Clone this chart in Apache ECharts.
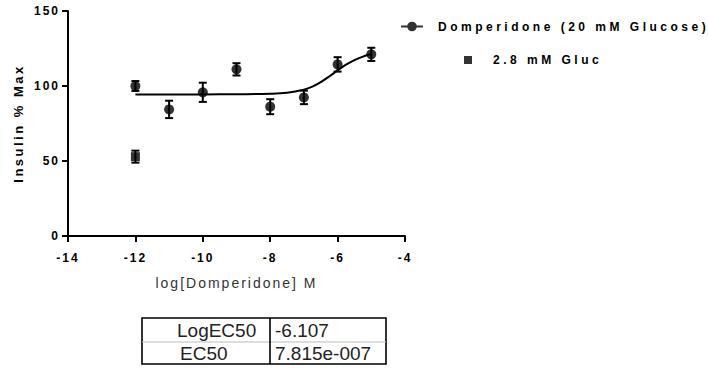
<!DOCTYPE html>
<html>
<head>
<meta charset="utf-8">
<script src="https://cdn.jsdelivr.net/npm/echarts@6/dist/echarts.min.js"></script>
<style>
html,body{margin:0;padding:0;background:#fff;}
#c{width:708px;height:368px;}
</style>
</head>
<body>
<div id="c"></div>
<script>
// ---- data ----
const seriesNames = ['Domperidone (20 mM Glucose)', '2.8 mM Gluc'];
const xTickMin = -14, xTickMax = -4, xTickStep = 2;
const yTickMin = 0, yTickMax = 150, yTickStep = 50;

const doseX    = [-12, -11, -10, -9, -8, -7, -6, -5];
const doseMean = [100.0, 84.4, 95.8, 111.1, 86.2, 92.4, 114.4, 121.1];
const doseErr  = [3.3, 5.8, 6.4, 4.1, 5.0, 4.5, 4.8, 4.4];

const lowX    = [-12];
const lowMean = [52.9];
const lowErr  = [4.0];

// fitted curve
const fitX = [-12, -11, -10, -9, -8, -7.5, -7, -6.75, -6.5, -6.25, -6, -5.75, -5.5, -5.25, -5];
const fitY = [94.3, 94.3, 94.4, 94.5, 94.8, 95.5, 97.6, 99.6, 102.6, 106.3, 110.4, 114.2, 117.3, 119.6, 121.3];

const tableLabels = ['LogEC50', 'EC50'];
const tableValues = ['-6.107', '7.815e-007'];

const xName = 'log[Domperidone] M';
const yName = 'Insulin % Max';

// ---- chart ----
const FONT = 'Liberation Sans, Arial, sans-serif';
const chart = echarts.init(document.getElementById('c'), null, {renderer: 'svg'});

function errRender(params, api) {
  const x = api.value(0), m = api.value(1), e = api.value(2);
  const t = api.coord([x, m + e]);
  const b = api.coord([x, m - e]);
  const w = 4;
  const st = {stroke: '#000', lineWidth: 2};
  return {
    type: 'group',
    children: [
      {type: 'line', shape: {x1: t[0], y1: t[1], x2: b[0], y2: b[1]}, style: st},
      {type: 'line', shape: {x1: t[0] - w, y1: t[1], x2: t[0] + w, y2: t[1]}, style: st},
      {type: 'line', shape: {x1: b[0] - w, y1: b[1], x2: b[0] + w, y2: b[1]}, style: st}
    ]
  };
}

const tableGraphics = [
  {type: 'rect', shape: {x: 142, y: 318, width: 244, height: 46}, style: {fill: 'none', stroke: '#000', lineWidth: 1.6}},
  {type: 'line', shape: {x1: 142, y1: 342, x2: 386, y2: 342}, style: {stroke: '#bbb', lineWidth: 1}},
  {type: 'line', shape: {x1: 270, y1: 318, x2: 270, y2: 364}, style: {stroke: '#000', lineWidth: 1.6}}
];
const rowY = [330, 353];
const labelX = [177, 180];
tableLabels.forEach((s, i) => {
  tableGraphics.push({type: 'text', x: labelX[i], y: rowY[i], style: {text: s, font: '19px ' + FONT, fill: '#222', textVerticalAlign: 'middle'}});
  tableGraphics.push({type: 'text', x: 275, y: rowY[i], style: {text: tableValues[i], font: '19px ' + FONT, fill: '#222', textVerticalAlign: 'middle'}});
});

const option = {
  animation: false,
  backgroundColor: '#fff',
  grid: {left: 68, right: 303, top: 11, bottom: 132},
  xAxis: {
    type: 'value', min: xTickMin, max: xTickMax, interval: xTickStep,
    axisLine: {show: true, lineStyle: {color: '#000', width: 2}},
    axisTick: {show: true, length: 6, lineStyle: {color: '#000', width: 2}},
    axisLabel: {margin: 16, color: '#000', fontWeight: 'bold', fontSize: 12, fontFamily: FONT},
    splitLine: {show: false},
    name: xName, nameLocation: 'middle', nameGap: 40,
    nameTextStyle: {fontSize: 14, color: '#333', fontFamily: FONT}
  },
  yAxis: {
    type: 'value', min: yTickMin, max: yTickMax, interval: yTickStep,
    axisLine: {show: true, lineStyle: {color: '#000', width: 2}},
    axisTick: {show: true, length: 6, lineStyle: {color: '#000', width: 2}},
    axisLabel: {margin: 8, color: '#000', fontWeight: 'bold', fontSize: 12, fontFamily: FONT},
    splitLine: {show: false},
    name: yName, nameLocation: 'middle', nameGap: 43,
    nameTextStyle: {fontSize: 13, fontWeight: 'bold', color: '#000', fontFamily: FONT}
  },
  legend: [
    {
      left: 401, top: 20.5, padding: 0, orient: 'vertical', itemWidth: 32, itemHeight: 11, selectedMode: false,
      textStyle: {color: '#000', fontWeight: 'bold', fontSize: 12, fontFamily: FONT},
      data: [{name: seriesNames[0], icon: 'path://M0 0M0 4.5H22V6.5H0Z M15.8 5.5A4.8 4.8 0 1 1 6.2 5.5A4.8 4.8 0 1 1 15.8 5.5Z M32 11'}]
    },
    {
      left: 464, top: 54, padding: 0, orient: 'vertical', itemWidth: 24, itemHeight: 8, selectedMode: false,
      textStyle: {color: '#000', fontWeight: 'bold', fontSize: 12, fontFamily: FONT},
      data: [{name: seriesNames[1], icon: 'path://M0 0H8V8H0Z M24 8'}]
    }
  ],
  series: [
    {
      type: 'line', name: 'fit', data: fitX.map((x, i) => [x, fitY[i]]),
      smooth: 0.4, showSymbol: false, symbol: 'none', silent: true,
      lineStyle: {color: '#000', width: 2}, z: 2
    },
    {
      type: 'custom', name: 'err1', renderItem: errRender,
      data: doseX.map((x, i) => [x, doseMean[i], doseErr[i]]), encode: {x: 0, y: 1}, z: 3, silent: true
    },
    {
      type: 'custom', name: 'err2', renderItem: errRender,
      data: lowX.map((x, i) => [x, lowMean[i], lowErr[i]]), encode: {x: 0, y: 1}, z: 3, silent: true
    },
    {
      type: 'scatter', name: seriesNames[0], data: doseX.map((x, i) => [x, doseMean[i]]),
      symbol: 'circle', symbolSize: 10, itemStyle: {color: '#000'}, z: 4
    },
    {
      type: 'scatter', name: seriesNames[1], data: lowX.map((x, i) => [x, lowMean[i]]),
      symbol: 'rect', symbolSize: 9, itemStyle: {color: '#000'}, z: 4
    }
  ],
  graphic: tableGraphics
};

// letter spacing as in the reference
function spacingFor(s) {
  if (s.indexOf('Domperidone (') >= 0 || s.indexOf('Gluc') >= 0) return '3.5px';
  if (s.indexOf('Insulin') >= 0) return '2.5px';
  if (s.indexOf('log[') >= 0) return '2px';
  if (/^\s*[-\u2212]?\d+\s*$/.test(s)) return '2px';
  return null;
}
function applySpacing() {
  document.querySelectorAll('#c text').forEach(t => {
    const ls = spacingFor(t.textContent || '');
    if (ls && t.style.letterSpacing !== ls) t.style.letterSpacing = ls;
  });
}
const host = document.getElementById('c');
const mo = new MutationObserver(() => applySpacing());
mo.observe(host, {subtree: true, childList: true, attributes: true, characterData: true});

chart.setOption(option);
applySpacing();
chart.on('finished', applySpacing);
setTimeout(applySpacing, 0);
setTimeout(applySpacing, 100);
</script>
</body>
</html>
